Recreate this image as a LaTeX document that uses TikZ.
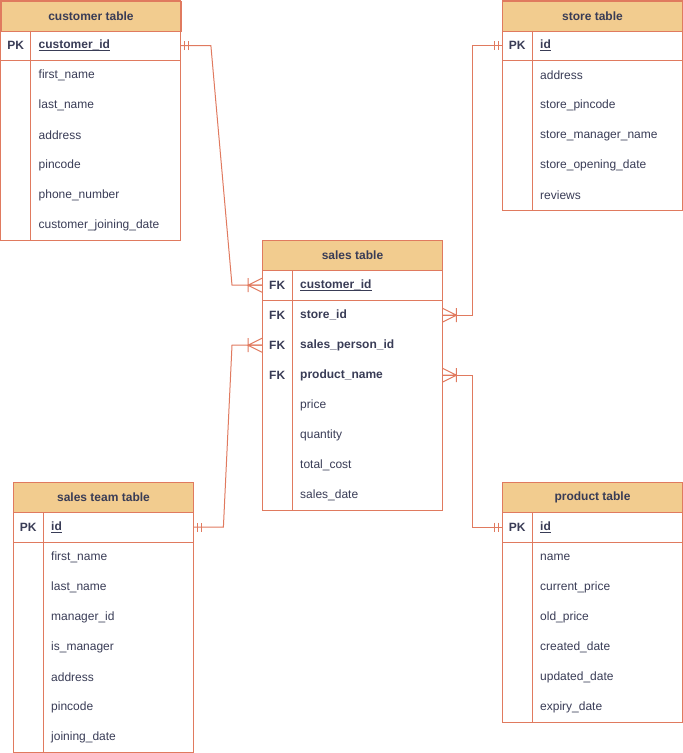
\documentclass[tikz,border=0pt]{standalone}
\usepackage{fontspec}
\setmainfont{Liberation Sans}
\usetikzlibrary{calc}
\definecolor{erline}{HTML}{E07A5F}
\definecolor{erfill}{HTML}{F2CC8F}
\definecolor{ertext}{HTML}{393C56}
\newcommand{\erkeyul}[1]{\setbox0\hbox{#1}\rlap{\rule[-2.2pt]{\wd0}{0.9pt}}\box0}
\tikzset{
  hdr/.style={draw=erline, line width=1pt, fill=erfill, minimum width=180pt, minimum height=30pt, inner sep=0pt, anchor=north west, font=\fontsize{12}{14}\selectfont\bfseries, text=ertext},
  keycell/.style={minimum width=30pt, minimum height=30pt, inner sep=0pt, anchor=north west, text=ertext},
  fieldcell/.style={minimum width=150pt, minimum height=30pt, inner xsep=8pt, inner ysep=0pt, text width=134pt, align=left, anchor=north west, text=ertext},
  outline/.style={draw=erline, line width=1pt},
  rel/.style={draw=erline, line width=1pt},
  many/.pic={\draw[rel] (-14,0) -- (0,0) (0,-7) -- (-14,0) -- (0,7) (-14,-7) -- (-14,7);},
  one/.pic={\draw[rel] (-4,-4.5) -- (-4,4.5) (-8,-4.5) -- (-8,4.5);}
}
\newcommand{\ertable}[6]{%
  \node[hdr] (#1) at (#2,#3) {#4};
  \foreach \k/\f/\s [count=\i] in {#6} {
    \node[keycell, font=\fontsize{12}{14}\selectfont\s] (#1-k\i) at (#2, #3+30*\i) {\k};
    \node[fieldcell, font=\fontsize{12}{14}\selectfont\s] (#1-f\i) at (#2+30, #3+30*\i) {\f};
  }
  \draw[outline] (#1.north west) rectangle (#1-f#5.south east);
  \draw[outline] (#1-k1.north east) -- (#1-k#5.south east);
  \draw[outline] (#1-k1.south west) -- (#1-f1.south east);
}
\begin{document}
\begin{tikzpicture}[x=1pt,y=-1pt]
\useasboundingbox (0,0) rectangle (683,753);
\ertable{cust}{0.5}{0.5}{customer table}{7}{PK/\erkeyul{customer\_id}/\bfseries, /first\_name/\mdseries, /last\_name/\mdseries, /address/\mdseries, /pincode/\mdseries, /phone\_number/\mdseries, /customer\_joining\_date/\mdseries}
\ertable{store}{502}{0.5}{store table}{6}{PK/\erkeyul{id}/\bfseries, /address/\mdseries, /store\_pincode/\mdseries, /store\_manager\_name/\mdseries, /store\_opening\_date/\mdseries, /reviews/\mdseries}
\ertable{sales}{262}{240}{sales table}{8}{FK/\erkeyul{customer\_id}/\bfseries, FK/store\_id/\bfseries, FK/sales\_person\_id/\bfseries, FK/product\_name/\bfseries, /price/\mdseries, /quantity/\mdseries, /total\_cost/\mdseries, /sales\_date/\mdseries}
\ertable{team}{13}{482}{sales team table}{8}{PK/\erkeyul{id}/\bfseries, /first\_name/\mdseries, /last\_name/\mdseries, /manager\_id/\mdseries, /is\_manager/\mdseries, /address/\mdseries, /pincode/\mdseries, /joining\_date/\mdseries}
\ertable{prod}{502}{482}{product table}{7}{PK/\erkeyul{id}/\bfseries, /name/\mdseries, /current\_price/\mdseries, /old\_price/\mdseries, /created\_date/\mdseries, /updated\_date/\mdseries, /expiry\_date/\mdseries}
% connectors
\draw[rel] (cust-f1.east) -- ++(30,0) -- ($(sales-k1.west)+(-30,0)$) -- (sales-k1.west);
\draw[rel] (store-k1.west) -- ++(-30,0) |- (sales-f2.east);
\draw[rel] (sales-k3.west) -- ++(-30,0) -- ($(team-f1.east)+(30,0)$) -- (team-f1.east);
\draw[rel] (sales-f4.east) -- ++(30,0) |- (prod-k1.west);
% markers
\pic at (sales-k1.west) {many};
\pic[rotate=180] at (sales-f2.east) {many};
\pic at (sales-k3.west) {many};
\pic[rotate=180] at (sales-f4.east) {many};
\pic[rotate=180] at (cust-f1.east) {one};
\pic at (store-k1.west) {one};
\pic[rotate=180] at (team-f1.east) {one};
\pic at (prod-k1.west) {one};
\end{tikzpicture}
\end{document}
